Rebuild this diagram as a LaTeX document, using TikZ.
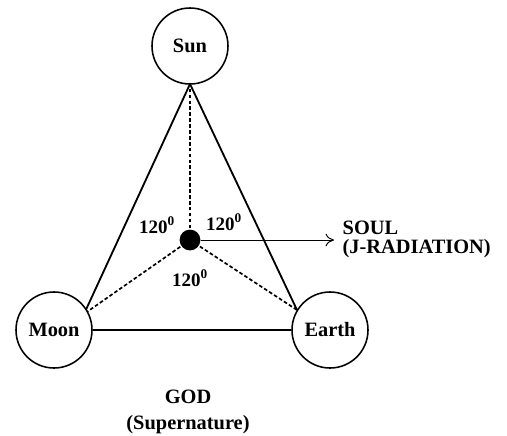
\documentclass[tikz,border=0pt]{standalone}
\usepackage{fontspec}
\setmainfont{Liberation Serif}
\usetikzlibrary{positioning,arrows.meta}

\begin{document}
\begin{tikzpicture}[
  x=0.025cm, y=-0.025cm,
  body/.style ={circle,draw=black,line width=1.1pt,fill=white,minimum size=1.9cm,inner sep=0pt},
  side/.style ={line width=1.3pt},
  ray/.style  ={line width=1.2pt,dash pattern=on 2.6pt off 1.6pt},
  core/.style ={circle,fill=black,minimum size=0.52cm,inner sep=0pt},
  lbl/.style  ={font=\bfseries\fontsize{14.5}{16}\selectfont,inner sep=1pt},
  ang/.style  ={font=\bfseries\fontsize{13.5}{15}\selectfont,inner sep=1pt}]
\useasboundingbox (0,0) rectangle (507,435);
% --- corners of the triangle and the centre ---
\coordinate (apex) at (190,84);
\coordinate (mv)   at (84,314);
\coordinate (ev)   at (297,310);
\coordinate (mid)  at (190,240);
% sides of the triangle
\draw[side] (apex) -- (mv);
\draw[side] (apex) -- (ev);
% dashed rays from the centre
\draw[ray] (mid) -- (apex);
\draw[ray] (mid) -- (mv);
\draw[ray] (mid) -- (ev);
% --- the three bodies ---
\node[body,lbl] (sun)   at (190,46)  {Sun};
\node[body,lbl] (moon)  at (54,330)  {Moon};
\node[body,lbl] (earth) at (330,330) {Earth};
\draw[side] (moon.east) -- (earth.west);
% --- the soul in the middle ---
\node[core] (soul) at (mid) {};
\coordinate (tip) at (334,240);
\draw[-{To[length=6pt,width=9pt]},line width=0.7pt] (soul.east) -- (tip);
\node[lbl,anchor=west] (soultxt) at (341,228) {SOUL};
\node[lbl,anchor=west] (jrad)    at (341,249) {(J-RADIATION)};
% angle labels
\node[ang] (a1) at (157,225) {120\textsuperscript{0}};
\node[ang] (a2) at (224,222) {120\textsuperscript{0}};
\node[ang] (a3) at (190,278) {120\textsuperscript{0}};
% --- caption ---
\node[lbl] (god)   at (188,397) {GOD};
\node[lbl] (super) at (188,425) {(Supernature)};
\end{tikzpicture}
\end{document}
